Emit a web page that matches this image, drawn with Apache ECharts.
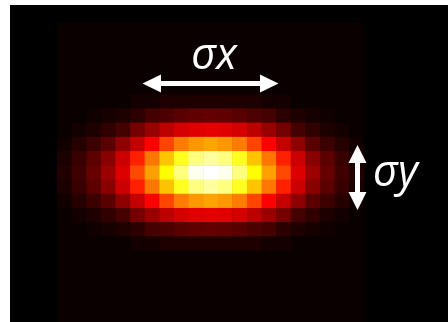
<!DOCTYPE html>
<html>
<head>
<meta charset="utf-8">
<script src="https://cdn.jsdelivr.net/npm/echarts@6/dist/echarts.min.js"></script>
<style>
html,body{margin:0;padding:0;background:#fff;}
#chart{width:448px;height:322px;}
</style>
</head>
<body>
<div id="chart"></div>
<script>
// ---- data (0..1 intensity) ----
const xCats = ['0','1','2','3','4','5','6','7','8','9','10','11','12','13','14','15','16','17','18','19','20'];
const yCats = ['0','1','2','3','4','5','6','7','8','9','10','11','12','13','14','15','16','17','18','19','20'];
const zeroRow = [0,0,0,0,0,0,0,0,0,0,0,0,0,0,0,0,0,0,0,0,0];
const row05 = [0,0,0,0,0,0.015,0.015,0.029,0.029,0.029,0.029,0.029,0.029,0.029,0.015,0.015,0,0,0,0,0];
const row06 = [0,0,0.01,0.017,0.029,0.05,0.086,0.098,0.116,0.128,0.134,0.128,0.116,0.098,0.086,0.05,0.029,0.017,0.01,0,0];
const row07 = [0,0.014,0.029,0.056,0.086,0.157,0.211,0.265,0.301,0.319,0.325,0.319,0.301,0.265,0.211,0.157,0.086,0.056,0.029,0.014,0];
const row08 = [0.011,0.041,0.074,0.119,0.199,0.277,0.365,0.467,0.55,0.592,0.61,0.592,0.55,0.467,0.365,0.277,0.199,0.119,0.074,0.041,0.011];
const row09 = [0.026,0.068,0.122,0.187,0.289,0.413,0.544,0.658,0.778,0.873,0.905,0.873,0.778,0.658,0.544,0.413,0.289,0.187,0.122,0.068,0.026];
const row10 = [0.032,0.08,0.139,0.217,0.313,0.472,0.604,0.746,0.873,0.985,1,0.985,0.873,0.746,0.604,0.472,0.313,0.217,0.139,0.08,0.032];
const row11 = [0.026,0.068,0.122,0.187,0.289,0.413,0.544,0.658,0.778,0.873,0.905,0.873,0.778,0.658,0.544,0.413,0.289,0.187,0.122,0.068,0.026];
const row12 = [0.011,0.041,0.074,0.119,0.199,0.277,0.365,0.467,0.55,0.592,0.61,0.592,0.55,0.467,0.365,0.277,0.199,0.119,0.074,0.041,0.011];
const row13 = [0,0.014,0.029,0.056,0.086,0.157,0.211,0.265,0.301,0.319,0.325,0.319,0.301,0.265,0.211,0.157,0.086,0.056,0.029,0.014,0];
const row14 = [0,0,0.01,0.017,0.029,0.05,0.086,0.098,0.116,0.128,0.134,0.128,0.116,0.098,0.086,0.05,0.029,0.017,0.01,0,0];
const row15 = [0,0,0,0,0,0.015,0.015,0.029,0.029,0.029,0.029,0.029,0.029,0.029,0.015,0.015,0,0,0,0,0];
const labelX = 'σx';
const labelY = 'σy';

const rows = [zeroRow,zeroRow,zeroRow,zeroRow,zeroRow,row05,row06,row07,row08,row09,row10,row11,row12,row13,row14,row15,zeroRow,zeroRow,zeroRow,zeroRow,zeroRow];
const data = [];
rows.forEach((r, yi) => r.forEach((v, xi) => data.push([xi, yi, v])));

// "hot" colour map (style)
function hot(t){
  const c = v => Math.max(0, Math.min(1, v));
  const r = c(0.0416 + t / 0.365079 * (1 - 0.0416));
  const g = c((t - 0.365079) / (0.746032 - 0.365079));
  const b = c((t - 0.746032) / (1 - 0.746032));
  const h = v => Math.round(v * 255).toString(16).padStart(2, '0');
  return '#' + h(r) + h(g) + h(b);
}
const hotColors = [];
for (let i = 0; i <= 200; i++) hotColors.push(hot(i / 200));

const chart = echarts.init(document.getElementById('chart'), null, {renderer: 'canvas'});
chart.setOption({
  backgroundColor: '#000000',
  animation: false,
  grid: {left: 57.3, top: 23.3, width: 306.7, height: 306.7, containLabel: false},
  xAxis: {type: 'category', data: xCats, show: false, boundaryGap: true},
  yAxis: {type: 'category', data: yCats, show: false, inverse: true, boundaryGap: true},
  visualMap: {type: 'continuous', min: 0, max: 1, show: false, inRange: {color: hotColors}},
  series: [{
    type: 'heatmap',
    data: data,
    itemStyle: {borderWidth: 0},
    emphasis: {disabled: true},
    silent: true
  }],
  graphic: [
    {type: 'rect', shape: {x: 0, y: 0, width: 10, height: 322}, style: {fill: '#ffffff'}, z: 100},
    {type: 'rect', shape: {x: 0, y: 0, width: 448, height: 5}, style: {fill: '#ffffff'}, z: 100},
    {type: 'polygon', z: 100, shape: {points: [[142.5,83.5],[161,74.5],[161,81],[260,81],[260,74.5],[278.5,83.5],[260,92.5],[260,86],[161,86],[161,92.5]]}, style: {fill: '#ffffff'}},
    {type: 'polygon', z: 100, shape: {points: [[357.5,145],[366.5,163],[360,163],[360,192],[366.5,192],[357.5,210],[348.5,192],[355,192],[355,163],[348.5,163]]}, style: {fill: '#ffffff'}},
    {type: 'text', z: 100, style: {text: labelX, x: 214, y: 57, fill: '#ffffff', font: 'italic 43px "Open Sans"', align: 'center', verticalAlign: 'middle'}},
    {type: 'text', z: 100, style: {text: labelY, x: 373, y: 174, fill: '#ffffff', font: 'italic 43px "Open Sans"', align: 'left', verticalAlign: 'middle'}}
  ]
});
</script>
</body>
</html>
